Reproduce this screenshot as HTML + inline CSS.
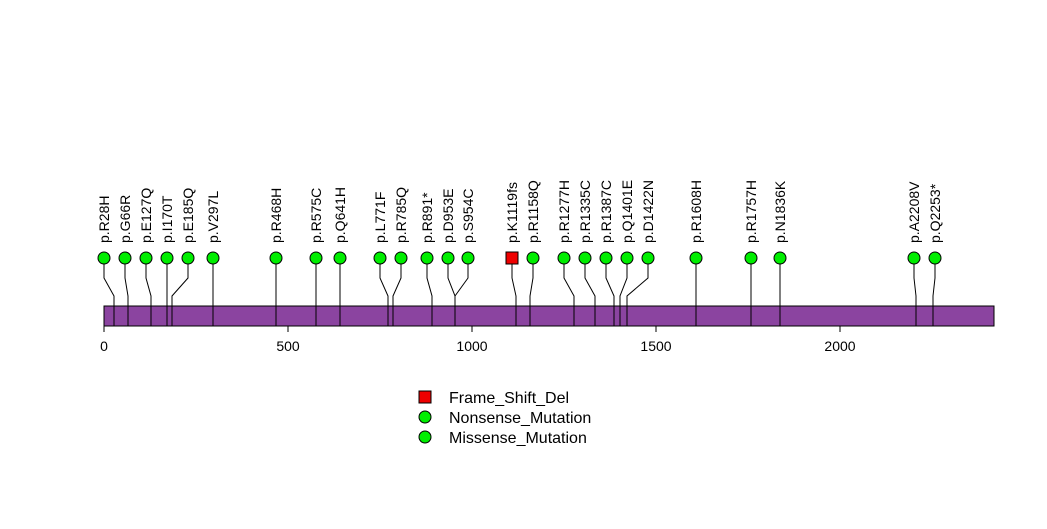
<!DOCTYPE html>
<html><head><meta charset="utf-8"><style>
html,body{margin:0;padding:0;background:#fff}
svg text{font-family:"Liberation Sans",sans-serif}
</style></head><body>
<svg width="1047" height="524" viewBox="0 0 1047 524" xmlns="http://www.w3.org/2000/svg">
<rect x="104" y="306" width="890" height="20" fill="#8b44a0" stroke="#000" stroke-width="1"/>
<g stroke="#000" stroke-width="1" fill="none">
<line x1="104" y1="326" x2="104" y2="332"/><line x1="288" y1="326" x2="288" y2="332"/><line x1="472" y1="326" x2="472" y2="332"/><line x1="656" y1="326" x2="656" y2="332"/><line x1="840" y1="326" x2="840" y2="332"/>
<polyline points="104,264 104,278 114,296 114,326"/>
<polyline points="125,264 125,278 128,296 128,326"/>
<polyline points="146,264 146,278 151,296 151,326"/>
<polyline points="167,264 167,278 167,296 167,326"/>
<polyline points="188,264 188,278 172,296 172,326"/>
<polyline points="213,264 213,278 213,296 213,326"/>
<polyline points="276,264 276,278 276,296 276,326"/>
<polyline points="316,264 316,278 316,296 316,326"/>
<polyline points="340,264 340,278 340,296 340,326"/>
<polyline points="380,264 380,278 388,296 388,326"/>
<polyline points="401,264 401,278 393,296 393,326"/>
<polyline points="427,264 427,278 432,296 432,326"/>
<polyline points="448,264 448,278 455,296 455,326"/>
<polyline points="468,264 468,278 455,296 455,326"/>
<polyline points="512,264 512,278 516,296 516,326"/>
<polyline points="533,264 533,278 530,296 530,326"/>
<polyline points="564,264 564,278 574,296 574,326"/>
<polyline points="585,264 585,278 595,296 595,326"/>
<polyline points="606,264 606,278 614,296 614,326"/>
<polyline points="627,264 627,278 620,296 620,326"/>
<polyline points="648,264 648,278 627,296 627,326"/>
<polyline points="696,264 696,278 696,296 696,326"/>
<polyline points="751,264 751,278 751,296 751,326"/>
<polyline points="780,264 780,278 780,296 780,326"/>
<polyline points="914,264 914,278 916,296 916,326"/>
<polyline points="935,264 935,278 933,296 933,326"/>
</g>
<g fill="#00ee00" stroke="#000" stroke-width="1">
<circle cx="104" cy="258" r="6"/><circle cx="125" cy="258" r="6"/><circle cx="146" cy="258" r="6"/><circle cx="167" cy="258" r="6"/><circle cx="188" cy="258" r="6"/><circle cx="213" cy="258" r="6"/><circle cx="276" cy="258" r="6"/><circle cx="316" cy="258" r="6"/><circle cx="340" cy="258" r="6"/><circle cx="380" cy="258" r="6"/><circle cx="401" cy="258" r="6"/><circle cx="427" cy="258" r="6"/><circle cx="448" cy="258" r="6"/><circle cx="468" cy="258" r="6"/><circle cx="533" cy="258" r="6"/><circle cx="564" cy="258" r="6"/><circle cx="585" cy="258" r="6"/><circle cx="606" cy="258" r="6"/><circle cx="627" cy="258" r="6"/><circle cx="648" cy="258" r="6"/><circle cx="696" cy="258" r="6"/><circle cx="751" cy="258" r="6"/><circle cx="780" cy="258" r="6"/><circle cx="914" cy="258" r="6"/><circle cx="935" cy="258" r="6"/>
<circle cx="425" cy="417" r="6"/><circle cx="425" cy="437" r="6"/>
</g>
<rect x="506" y="252" width="12" height="12" fill="#ee0000" stroke="#000"/>
<rect x="419" y="391" width="12" height="12" fill="#ee0000" stroke="#000"/>
<g font-size="14" fill="#000">
<text x="104" y="351" text-anchor="middle">0</text><text x="288" y="351" text-anchor="middle">500</text><text x="472" y="351" text-anchor="middle">1000</text><text x="656" y="351" text-anchor="middle">1500</text><text x="840" y="351" text-anchor="middle">2000</text>
</g>
<g font-size="16" fill="#000">
<text x="449" y="403">Frame_Shift_Del</text><text x="449" y="423">Nonsense_Mutation</text><text x="449" y="443">Missense_Mutation</text>
</g>
<g font-size="14" fill="#000">
<text transform="translate(109,243) rotate(-90)">p.R28H</text>
<text transform="translate(130,243) rotate(-90)">p.G66R</text>
<text transform="translate(151,243) rotate(-90)">p.E127Q</text>
<text transform="translate(172,243) rotate(-90)">p.I170T</text>
<text transform="translate(193,243) rotate(-90)">p.E185Q</text>
<text transform="translate(218,243) rotate(-90)">p.V297L</text>
<text transform="translate(281,243) rotate(-90)">p.R468H</text>
<text transform="translate(321,243) rotate(-90)">p.R575C</text>
<text transform="translate(345,243) rotate(-90)">p.Q641H</text>
<text transform="translate(385,243) rotate(-90)">p.L771F</text>
<text transform="translate(406,243) rotate(-90)">p.R785Q</text>
<text transform="translate(432,243) rotate(-90)">p.R891*</text>
<text transform="translate(453,243) rotate(-90)">p.D953E</text>
<text transform="translate(473,243) rotate(-90)">p.S954C</text>
<text transform="translate(517,243) rotate(-90)">p.K1119fs</text>
<text transform="translate(538,243) rotate(-90)">p.R1158Q</text>
<text transform="translate(569,243) rotate(-90)">p.R1277H</text>
<text transform="translate(590,243) rotate(-90)">p.R1335C</text>
<text transform="translate(611,243) rotate(-90)">p.R1387C</text>
<text transform="translate(632,243) rotate(-90)">p.Q1401E</text>
<text transform="translate(653,243) rotate(-90)">p.D1422N</text>
<text transform="translate(701,243) rotate(-90)">p.R1608H</text>
<text transform="translate(756,243) rotate(-90)">p.R1757H</text>
<text transform="translate(785,243) rotate(-90)">p.N1836K</text>
<text transform="translate(919,243) rotate(-90)">p.A2208V</text>
<text transform="translate(940,243) rotate(-90)">p.Q2253*</text>
</g>
</svg>
</body></html>
